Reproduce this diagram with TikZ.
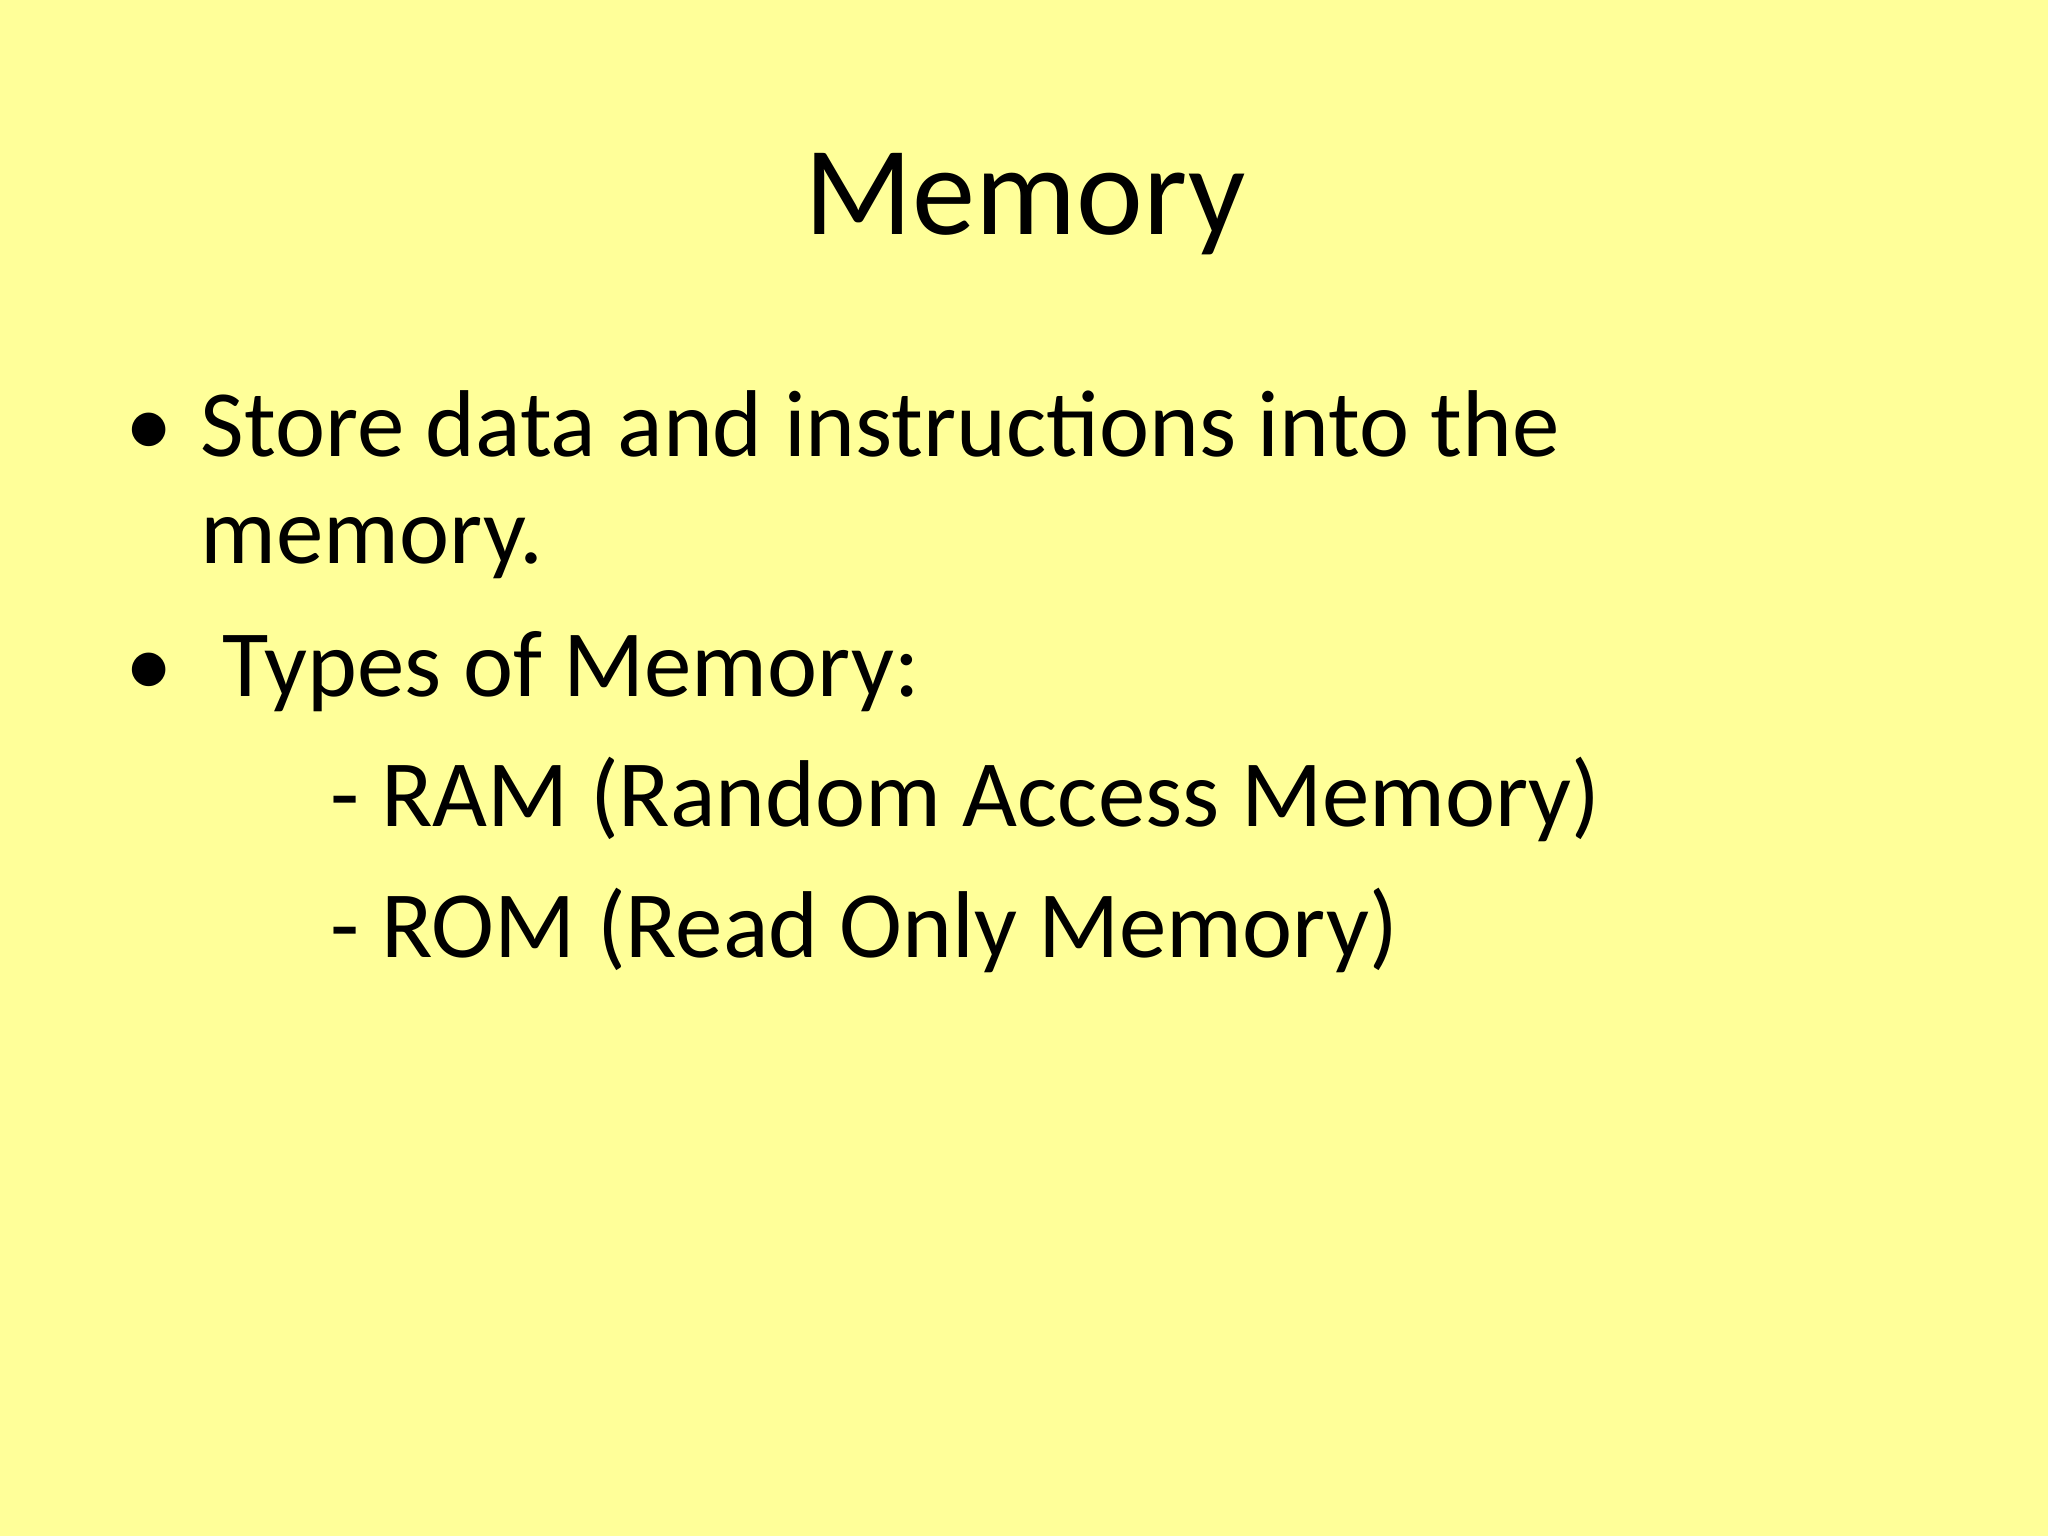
\documentclass[tikz,border=0pt]{standalone}
\usepackage{fontspec}
\setmainfont{Carlito}
\definecolor{bg}{HTML}{FFFF99}
\begin{document}
\begin{tikzpicture}[x=1cm,y=1cm,
  body/.style={anchor=base west,inner sep=0pt,font=\fontsize{27}{32}\selectfont}]
\fill[bg] (0,0) rectangle (20.48,-15.36);
\useasboundingbox (0,0) rectangle (20.48,-15.36);
\node[anchor=base,inner sep=0pt,font=\fontsize{36}{42}\selectfont] (title) at (10.25,-2.35) {Memory};
\node[body] (b1) at (1.25,-4.57) {•};
\node[body] (l1) at (2.00,-4.57) {Store data and instructions into the};
\node[body] (l2) at (2.00,-5.64) {memory.};
\node[body] (b2) at (1.25,-6.96) {•};
\node[body] (l3) at (2.22,-6.96) {Types of Memory:};
\node[body] (l4) at (3.30,-8.27) {- RAM (Random Access Memory)};
\node[body] (l5) at (3.30,-9.57) {- ROM (Read Only Memory)};
\end{tikzpicture}
\end{document}
